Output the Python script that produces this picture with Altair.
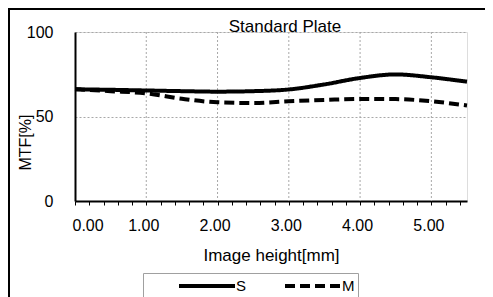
import altair as alt
import pandas as pd

# ---- data ----
x_vals = [0.0, 0.5, 1.0, 1.5, 2.0, 2.5, 3.0, 3.5, 4.0, 4.5, 5.0, 5.5]
s_vals = [66.1, 65.8, 65.4, 65.0, 64.7, 65.0, 66.0, 69.0, 72.8, 74.9, 73.2, 70.6]
m_vals = [66.1, 65.0, 63.7, 60.5, 58.4, 58.0, 59.0, 59.8, 60.4, 60.3, 59.0, 56.5]
series = ["S", "M"]
x_ticks = [0.0, 0.2, 0.4, 0.6, 0.8, 1.0, 1.2, 1.4, 1.6, 1.8, 2.0, 2.2, 2.4, 2.6,
           2.8, 3.0, 3.2, 3.4, 3.6, 3.8, 4.0, 4.2, 4.4, 4.6, 4.8, 5.0, 5.2, 5.4]
x_grid = [1, 2, 3, 4, 5]
y_ticks = [0, 50, 100]

FONT = "Liberation Sans"

rows = []
for x, s, m in zip(x_vals, s_vals, m_vals):
    rows.append({"x": x, "value": s, "series": "S"})
    rows.append({"x": x, "value": m, "series": "M"})
df = pd.DataFrame(rows)

xscale = alt.Scale(domain=[0, 5.5], nice=False, zero=False)
yscale = alt.Scale(domain=[0, 100], nice=False)

x_axis = alt.Axis(
    values=x_ticks, title="Image height[mm]", grid=False,
    tickSize=4, tickColor="black", tickWidth=1,
    domainColor="black", domainWidth=2,
    labelExpr="abs(datum.value - round(datum.value)) < 0.01 ? format(datum.value, '.2f') : ''",
    labelOverlap=False, labelPadding=12, labelOffset=-3, labelFontSize=16,
    labelColor="black", labelFont=FONT,
    titleFontSize=17, titleFont=FONT, titleFontWeight="normal", titleColor="black",
    titleY=54, titleBaseline="middle")

y_axis = alt.Axis(
    values=y_ticks, title="MTF[%]", ticks=False, grid=True,
    gridColor="#a8a8a8", gridDash=[2, 2], gridWidth=1,
    domainColor="black", domainWidth=2,
    labelPadding=22, labelFontSize=16, labelColor="black", labelFont=FONT,
    titleFontSize=16, titleFont=FONT, titleFontWeight="normal", titleColor="black",
    titleAngle=270, titleX=-50, titleY=110, titleAlign="center",
    titleBaseline="middle")

grid = alt.Chart(pd.DataFrame({"g": x_grid})).mark_rule(
    color="#a8a8a8", strokeWidth=1, strokeDash=[2, 2]
).encode(x=alt.X("g:Q", scale=xscale, axis=x_axis))

lines = alt.Chart(df).mark_line(
    interpolate="monotone", strokeWidth=4, color="black"
).encode(
    x=alt.X("x:Q", scale=xscale, axis=x_axis),
    y=alt.Y("value:Q", scale=yscale, axis=y_axis),
    strokeDash=alt.StrokeDash("series:N", scale=alt.Scale(domain=series, range=[[1, 0], [10, 5]]),
        legend=alt.Legend(
            title=None, orient="none", legendX=68, legendY=241,
            direction="horizontal", symbolType="M-3.5,0H3.5", symbolSize=256,
            symbolStrokeWidth=4, symbolStrokeColor="black", symbolFillColor="transparent",
            symbolOffset=51, labelOffset=19, columnPadding=5, padding=3,
            strokeColor="#a0a0a0", fillColor="white",
            labelFontSize=15, labelFont=FONT, labelColor="black")),
)

border_top = alt.Chart(pd.DataFrame({"a": [0]})).mark_rule(color="black", strokeWidth=2).encode(
    x=alt.value(-67), x2=alt.value(430), y=alt.value(-23))
border_left = alt.Chart(pd.DataFrame({"a": [0]})).mark_rule(color="black", strokeWidth=2).encode(
    x=alt.value(-66), y=alt.value(-24), y2=alt.value(300))

chart = alt.layer(grid, lines, border_top, border_left).properties(
    width=392, height=169,
    autosize=alt.AutoSizeParams(type="none"),
    padding={"left": 67, "top": 24, "right": 18, "bottom": 100},
    title=alt.Title("Standard Plate", fontSize=17, font=FONT, fontWeight="normal",
                    anchor="middle", frame="group", dx=14, dy=42, offset=0,
                    baseline="alphabetic", color="black"),
).configure_view(stroke="#808080", strokeWidth=2).configure(font=FONT, background="white")

chart.save("out.html", embed_options={"renderer": "svg", "actions": False})
